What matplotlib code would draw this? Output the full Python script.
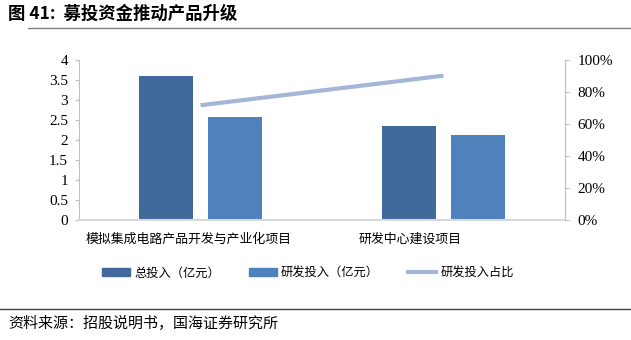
import numpy as np
import matplotlib.pyplot as plt
import matplotlib.transforms as mtransforms
from matplotlib.lines import Line2D
from matplotlib.patches import Patch

plt.rcParams['font.family'] = ['Liberation Serif', 'Noto Sans CJK SC']
cjk = ['Noto Sans CJK SC', 'DejaVu Sans']

# 数据
projects = ['模拟集成电路产品开发与产业化项目', '研发中心建设项目']
total_invest = [3.60, 2.35]
rd_invest = [2.58, 2.12]
rd_ratio = [0.717, 0.902]

c_total = '#41699B'
c_rd = '#4F81BD'
c_ratio = '#A4B7D8'
c_axis = '#BFBFBF'

fig = plt.figure(figsize=(6.31, 3.40), dpi=100)
ax = fig.add_axes([79 / 631, 1 - 220 / 340, (565 - 79) / 631, 160 / 340])

x = np.arange(len(projects))
w = 0.226
ax.bar(x - 0.142, total_invest, w, color=c_total, zorder=2)
ax.bar(x + 0.142, rd_invest, w, color=c_rd, zorder=2)
ax.set_xlim(-0.5, 1.5)
ax.set_ylim(0, 4)
ax.set_yticks(np.arange(0, 4.01, 0.5))
ax.set_yticklabels(['0', '0.5', '1', '1.5', '2', '2.5', '3', '3.5', '4'])
ax.set_xticks(x)
ax.set_xticklabels(projects, family=cjk, fontsize=9.3)
ax.tick_params(axis='x', length=0, pad=9)
ax.tick_params(axis='y', length=3, color=c_axis, labelsize=11, pad=5)

# 类别标签略向左偏移
for lbl, dx in zip(ax.get_xticklabels(), [-12, -33]):
    lbl.set_transform(lbl.get_transform() +
                      mtransforms.ScaledTranslation(dx / 100, 0, fig.dpi_scale_trans))

for s in ['top', 'right']:
    ax.spines[s].set_visible(False)
ax.spines['left'].set_color(c_axis)
ax.spines['bottom'].set_color('#D9D9D9')
ax.spines['bottom'].set_linewidth(1.5)

# 右轴：研发投入占比
ax2 = ax.twinx()
ax2.plot(x, rd_ratio, color=c_ratio, lw=3, solid_capstyle='butt', zorder=3)
ax2.set_ylim(0, 1)
ax2.set_yticks(np.arange(0, 1.01, 0.2))
ax2.set_yticklabels([f'{int(round(v * 100))}%' for v in np.arange(0, 1.01, 0.2)])
ax2.tick_params(axis='y', length=3, color=c_axis, labelsize=11, pad=6)
for s in ['top', 'left', 'bottom']:
    ax2.spines[s].set_visible(False)
ax2.spines['right'].set_color(c_axis)

# 图例
handles = [Patch(color=c_total), Patch(color=c_rd), Line2D([], [], color=c_ratio, lw=3)]
labels = ['总投入（亿元）', '研发投入（亿元）', '研发投入占比']
fig.legend(handles, labels, loc='center', bbox_to_anchor=(308 / 631, 1 - 273 / 340), ncol=3,
           frameon=False, prop={'family': cjk, 'size': 8.8}, handlelength=2.3,
           handleheight=0.6, columnspacing=2.4, handletextpad=0.3)

# 标题与来源
fig.text(8 / 631, 1 - 14 / 340, '图 41:  募投资金推动产品升级', family=cjk,
         fontsize=12.5, fontweight='bold', va='center')
fig.add_artist(Line2D([28 / 631, 1], [1 - 28 / 340] * 2, color='#808080', lw=1))
fig.add_artist(Line2D([0, 1], [1 - 309 / 340] * 2, color='#404040', lw=1))
fig.text(8 / 631, 1 - 324 / 340, '资料来源：招股说明书，国海证券研究所', family=cjk,
         fontsize=10.8, va='center')

fig.savefig('out.png', dpi=100)
